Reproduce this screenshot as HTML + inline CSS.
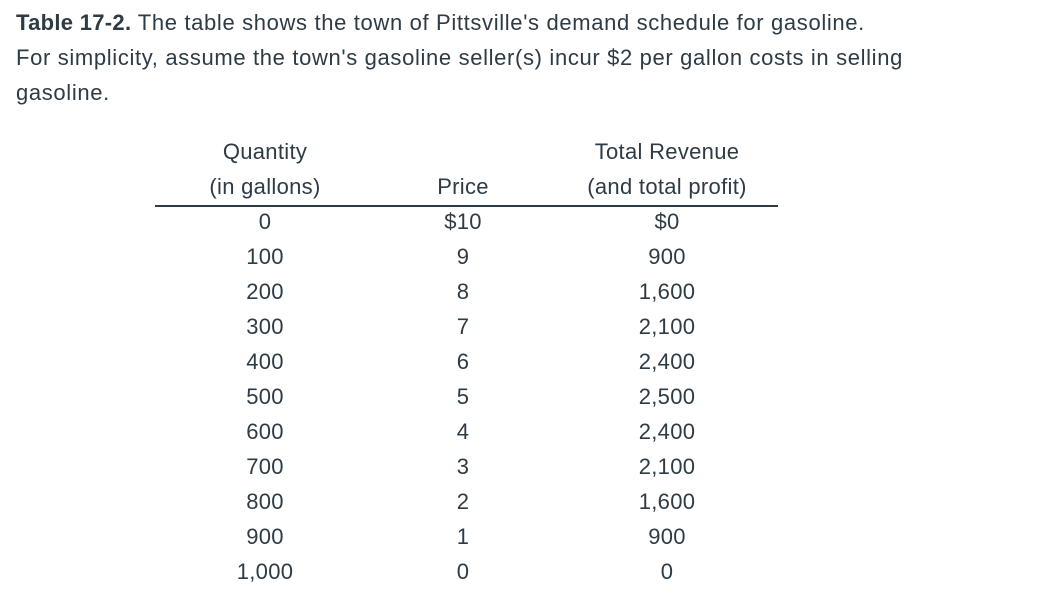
<!DOCTYPE html>
<html><head><meta charset="utf-8">
<style>
body{margin:0;width:1047px;height:611px;background:#fff;font-family:"Liberation Sans",sans-serif;color:#2d3b45;position:relative;overflow:hidden}
.t{position:absolute;left:16px;font-size:22px;letter-spacing:0.65px;line-height:35px;white-space:nowrap}
.c{position:absolute;font-size:22px;letter-spacing:0.3px;transform:translate(-50%,-50%);white-space:nowrap}
.rule{position:absolute;left:155px;top:205px;width:623px;height:1.5px;background:#2d3b45}
</style></head><body>
<div class="t" style="top:5px"><b style="letter-spacing:0.3px">Table 17-2.</b> The table shows the town of Pittsville's demand schedule for gasoline.</div>
<div class="t" style="top:40px">For simplicity, assume the town's gasoline seller(s) incur $2 per gallon costs in selling</div>
<div class="t" style="top:75px">gasoline.</div>
<div class="c" style="left:265px;top:152px">Quantity</div>
<div class="c" style="left:265px;top:187px">(in gallons)</div>
<div class="c" style="left:463px;top:187px">Price</div>
<div class="c" style="left:667px;top:152px">Total Revenue</div>
<div class="c" style="left:667px;top:187px">(and total profit)</div>
<div class="rule"></div>
<div id="rows"></div>
<script>
const quantities=["0","100","200","300","400","500","600","700","800","900","1,000"];
const prices=["$10","9","8","7","6","5","4","3","2","1","0"];
const revenues=["$0","900","1,600","2,100","2,400","2,500","2,400","2,100","1,600","900","0"];
const rows=document.getElementById('rows');
const cols=[[quantities,265,'quantity-cell'],[prices,463,'price-cell'],[revenues,667,'revenue-cell']];
quantities.forEach((_,i)=>{
  cols.forEach(([arr,x,name])=>{
    const d=document.createElement('div');
    d.className='c';
    d.style.left=x+'px';
    d.style.top=(222+35*i)+'px';
    d.textContent=arr[i];
    
    
    rows.appendChild(d);
  });
});
</script>
</body></html>
